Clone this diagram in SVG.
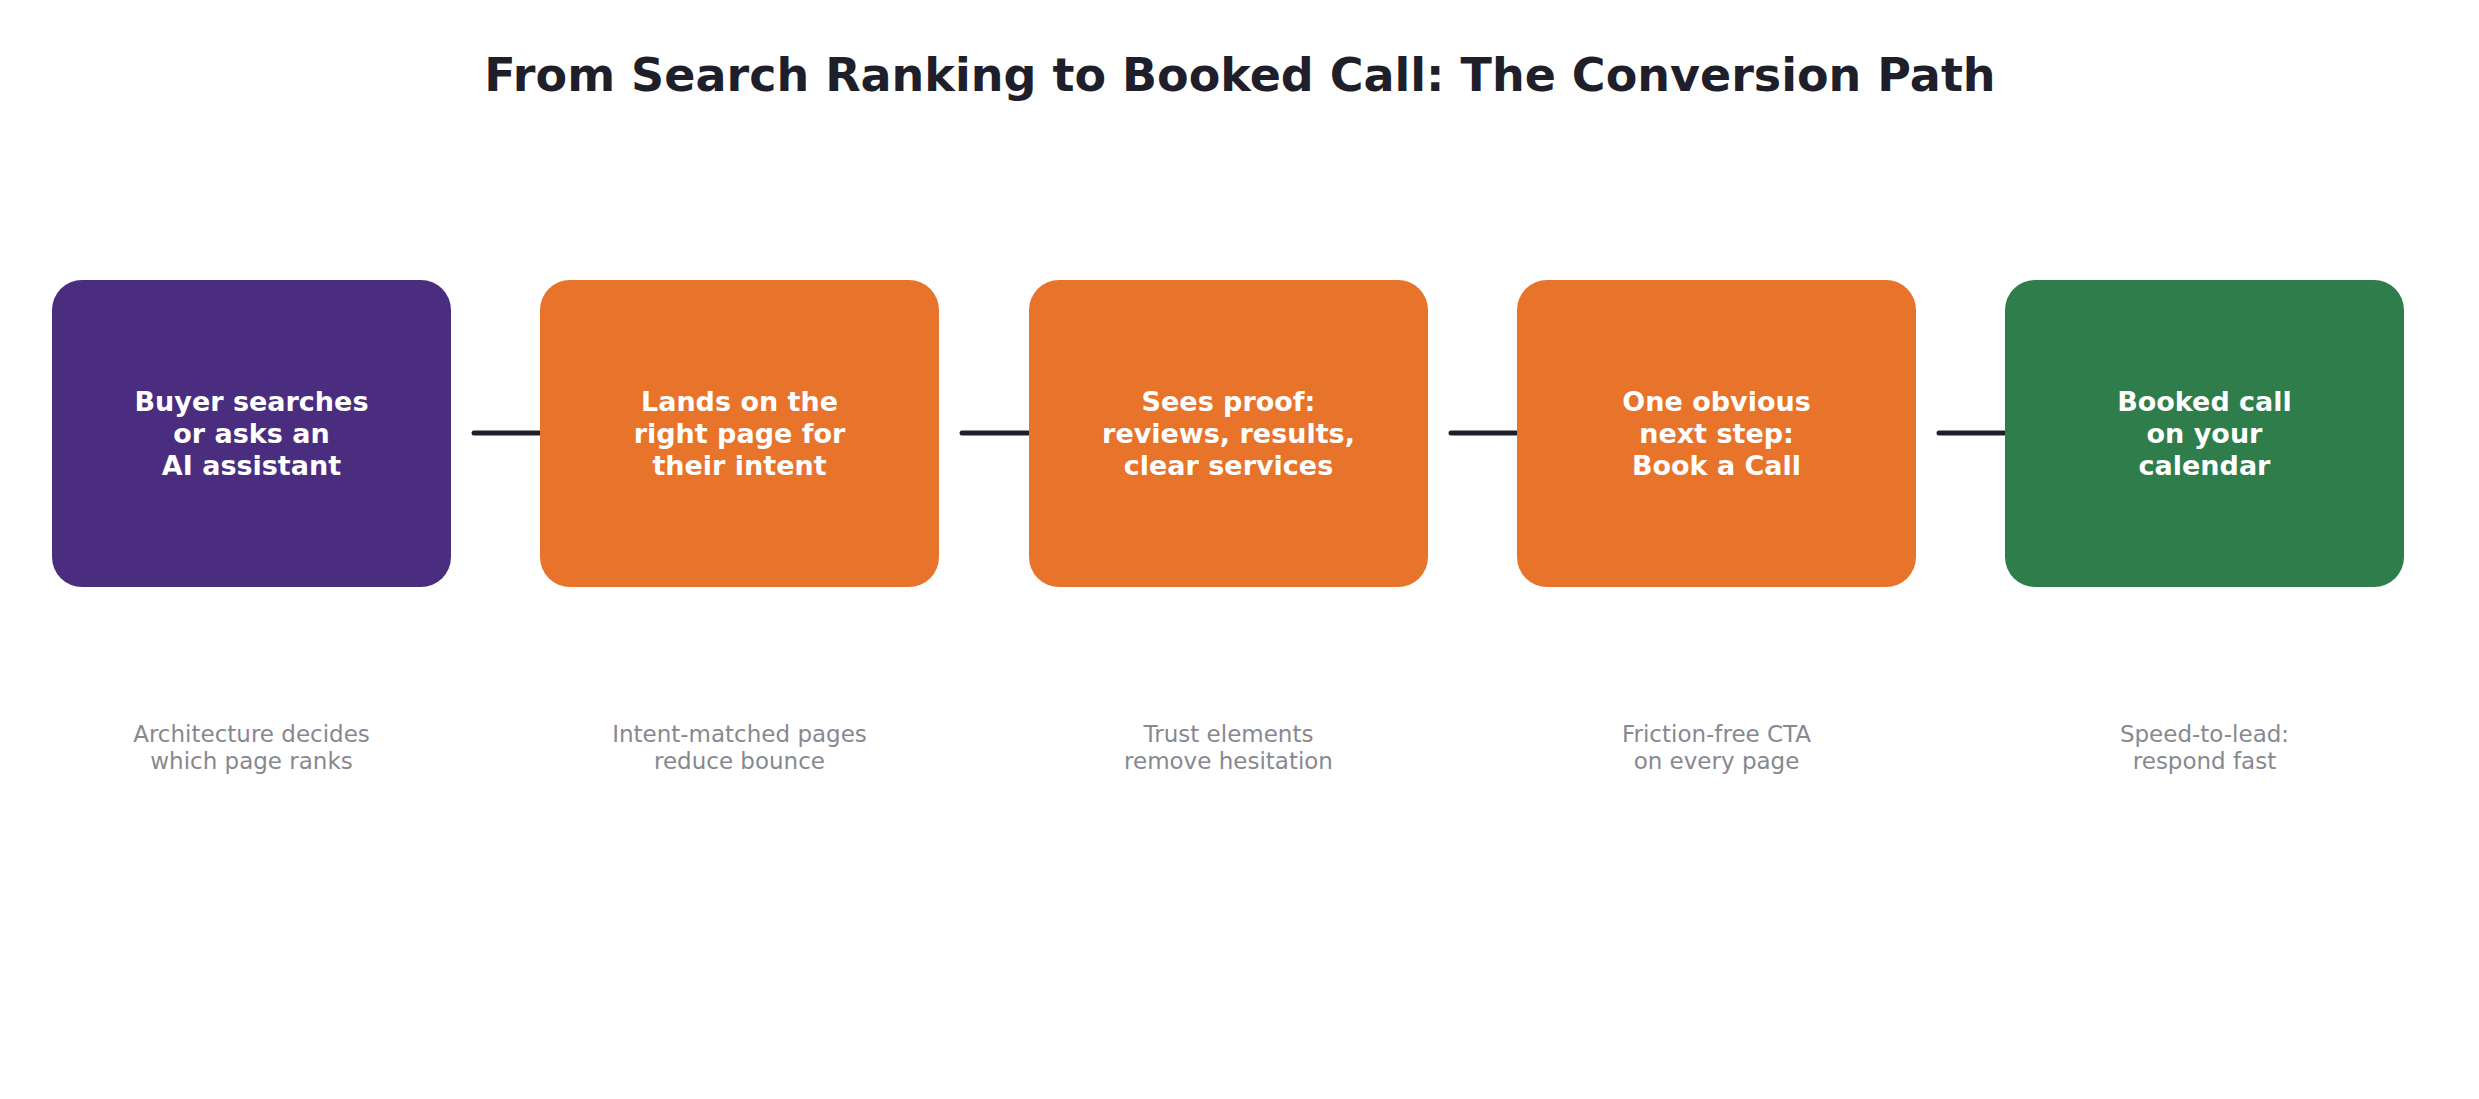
<svg xmlns="http://www.w3.org/2000/svg" width="2479" height="1099" viewBox="0 0 2479 1099">
<style>
.t{font-family:"DejaVu Sans",sans-serif;font-weight:bold;font-size:46px;fill:#1f1f2b;text-anchor:middle}
.b{font-family:"DejaVu Sans",sans-serif;font-weight:bold;font-size:27px;fill:#fff;text-anchor:middle}
.c{font-family:"DejaVu Sans",sans-serif;font-size:23px;fill:#888890;text-anchor:middle}
.l{stroke:#1f1f2b;stroke-width:5;stroke-linecap:round}
</style>
<rect width="2479" height="1099" fill="#fff"/>
<text class="t" x="1240" y="91">From Search Ranking to Booked Call: The Conversion Path</text>
<g id="connectors">
<line class="l" x1="474" y1="433" x2="540" y2="433"/>
<line class="l" x1="962" y1="433" x2="1029" y2="433"/>
<line class="l" x1="1451" y1="433" x2="1517" y2="433"/>
<line class="l" x1="1939" y1="433" x2="2005" y2="433"/>
</g>
<g id="n1"><rect x="52" y="280" width="399" height="307" rx="30" fill="#4b2d7f"/>
<text class="b" x="251.5"><tspan x="251.5" y="411">Buyer searches</tspan><tspan x="251.5" y="443">or asks an</tspan><tspan x="251.5" y="475">AI assistant</tspan></text>
<text class="c"><tspan x="251.5" y="742">Architecture decides</tspan><tspan x="251.5" y="769">which page ranks</tspan></text></g>
<g id="n2"><rect x="540" y="280" width="399" height="307" rx="30" fill="#e8732a"/>
<text class="b"><tspan x="739.5" y="411">Lands on the</tspan><tspan x="739.5" y="443">right page for</tspan><tspan x="739.5" y="475">their intent</tspan></text>
<text class="c"><tspan x="739.5" y="742">Intent-matched pages</tspan><tspan x="739.5" y="769">reduce bounce</tspan></text></g>
<g id="n3"><rect x="1029" y="280" width="399" height="307" rx="30" fill="#e8732a"/>
<text class="b"><tspan x="1228.5" y="411">Sees proof:</tspan><tspan x="1228.5" y="443">reviews, results,</tspan><tspan x="1228.5" y="475">clear services</tspan></text>
<text class="c"><tspan x="1228.5" y="742">Trust elements</tspan><tspan x="1228.5" y="769">remove hesitation</tspan></text></g>
<g id="n4"><rect x="1517" y="280" width="399" height="307" rx="30" fill="#e8732a"/>
<text class="b"><tspan x="1716.5" y="411">One obvious</tspan><tspan x="1716.5" y="443">next step:</tspan><tspan x="1716.5" y="475">Book a Call</tspan></text>
<text class="c"><tspan x="1716.5" y="742">Friction-free CTA</tspan><tspan x="1716.5" y="769">on every page</tspan></text></g>
<g id="n5"><rect x="2005" y="280" width="399" height="307" rx="30" fill="#2e7d4a"/>
<text class="b"><tspan x="2204.5" y="411">Booked call</tspan><tspan x="2204.5" y="443">on your</tspan><tspan x="2204.5" y="475">calendar</tspan></text>
<text class="c"><tspan x="2204.5" y="742">Speed-to-lead:</tspan><tspan x="2204.5" y="769">respond fast</tspan></text></g>
</svg>
